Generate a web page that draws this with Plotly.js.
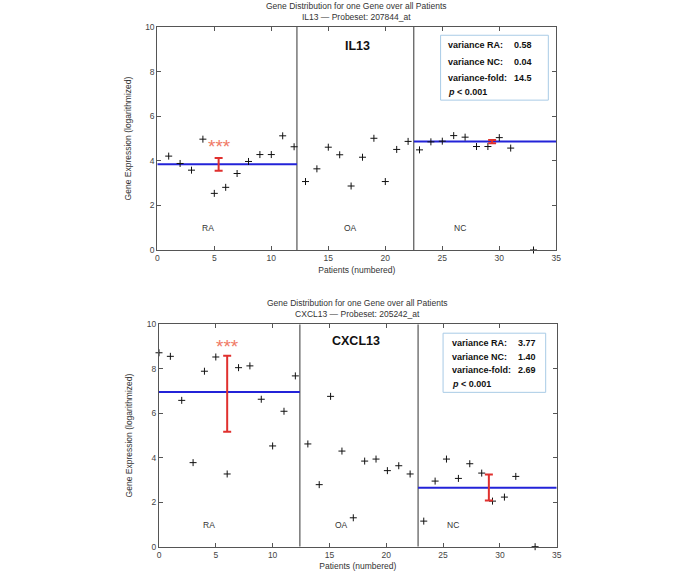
<!DOCTYPE html>
<html>
<head>
<meta charset="utf-8">
<script src="https://cdn.plot.ly/plotly-3.0.1.min.js"></script>
<style>html,body{margin:0;padding:0;background:#fff;}#chart{width:685px;height:575px;}</style>
</head>
<body>
<div id="chart"></div>
<script>
// ---------- IL13 (top) ----------
const il13_ra_x = [1,2,3,4,5,6,7,8,9,10,11,12];
const il13_ra_y = [4.21,3.88,3.58,4.97,2.54,2.81,3.43,3.97,4.28,4.28,5.12,4.63];
const il13_oa_x = [13,14,15,16,17,18,19,20,21,22];
const il13_oa_y = [3.07,3.64,4.61,4.27,2.87,4.16,5.01,3.07,4.51,4.87];
const il13_nc_x = [23,24,25,26,27,28,29,30,31];
const il13_nc_y = [4.49,4.85,4.88,5.13,5.06,4.64,4.64,5.04,4.57];
const il13_extra_x = [33];
const il13_extra_y = [0];
const il13_sep = [12.25, 22.5];
const il13_mean_ra = 3.84, il13_mean_nc = 4.87;
const il13_err_x = [5.38, 29.37];
const il13_err_y = [3.84, 4.86];
const il13_err_plus = [0.29, 0.07];
const il13_err_minus = [0.29, 0.07];
const il13_star = [5.43, 4.62];
const il13_stats_labels = ["variance RA:", "variance NC:", "variance-fold:"];
const il13_stats_values = ["0.58", "0.04", "14.5"];

// ---------- CXCL13 (bottom) ----------
const cx_ra_x = [1,2,3,4,5,6,7,8,9,10,11,12];
const cx_ra_y = [8.56,6.58,3.78,7.89,8.53,3.27,8.05,8.13,6.63,4.53,6.09,7.68];
const cx_oa_x = [13.1,14.1,15.1,16.1,17.1,18.1,19.1,20.1,21.1,22.1];
const cx_oa_y = [4.62,2.79,6.76,4.30,1.30,3.85,3.94,3.42,3.64,3.27];
const cx_nc_x = [23.3,24.3,25.3,26.35,27.35,28.4,29.35,30.4,31.4];
const cx_nc_y = [1.15,2.95,3.94,3.07,3.73,3.31,2.05,2.23,3.16];
const cx_extra_x = [0, 33.1];
const cx_extra_y = [8.72, 0];
const cx_sep = [12.4, 22.8];
const cx_mean_ra = 6.96, cx_mean_nc = 2.65;
const cx_err_x = [6.0, 29.03];
const cx_err_y = [6.96, 2.65];
const cx_err_plus = [1.63, 0.60];
const cx_err_minus = [1.79, 0.57];
const cx_star = [6.0, 9.02];
const cx_stats_labels = ["variance RA:", "variance NC:", "variance-fold:"];
const cx_stats_values = ["3.77", "1.40", "2.69"];

const xTickVals = [0,5,10,15,20,25,30,35];
const yTickVals = [0,2,4,6,8,10];
const groupLabels = ["RA","OA","NC"];

const FONT = "Liberation Sans, Arial, Helvetica, sans-serif";
const BLUE = "#2323d8";
const RED = "#e0302e";
const STAR = "#f07a66";
const GRID = "#555555";

function pointTrace(x, y, xa, ya, clip) {
  return {x: x, y: y, xaxis: xa, yaxis: ya, type: "scatter", mode: "markers",
    cliponaxis: clip,
    marker: {symbol: "cross-thin", size: 5, color: "#111", line: {color: "#111", width: 1}},
    hoverinfo: "skip", showlegend: false};
}
function lineTrace(x, y, xa, ya, color, w) {
  return {x: x, y: y, xaxis: xa, yaxis: ya, type: "scatter", mode: "lines",
    line: {color: color, width: w}, hoverinfo: "skip", showlegend: false};
}
function errTrace(x, y, plus, minus, xa, ya) {
  return {x: x, y: y, xaxis: xa, yaxis: ya, type: "scatter", mode: "markers",
    marker: {size: 1, color: "rgba(0,0,0,0)"},
    error_y: {type: "data", array: plus, arrayminus: minus, color: RED, thickness: 2, width: 4, visible: true},
    hoverinfo: "skip", showlegend: false};
}

const traces = [];
function panel(d, xa, ya) {
  d.sep.forEach(s => traces.push(lineTrace([s, s], [0, 10], xa, ya, "#333", 1)));
  traces.push(lineTrace([0, d.sep[0]], [d.meanRA, d.meanRA], xa, ya, BLUE, 2));
  traces.push(lineTrace([d.sep[1], 35], [d.meanNC, d.meanNC], xa, ya, BLUE, 2));
  traces.push(pointTrace(d.raX, d.raY, xa, ya, true));
  traces.push(pointTrace(d.oaX, d.oaY, xa, ya, true));
  traces.push(pointTrace(d.ncX, d.ncY, xa, ya, true));
  traces.push(pointTrace(d.exX, d.exY, xa, ya, false));
  traces.push(errTrace(d.errX, d.errY, d.errP, d.errM, xa, ya));
}
panel({sep: il13_sep, meanRA: il13_mean_ra, meanNC: il13_mean_nc,
  raX: il13_ra_x, raY: il13_ra_y, oaX: il13_oa_x, oaY: il13_oa_y, ncX: il13_nc_x, ncY: il13_nc_y,
  exX: il13_extra_x, exY: il13_extra_y, errX: il13_err_x, errY: il13_err_y, errP: il13_err_plus, errM: il13_err_minus}, "x", "y");
panel({sep: cx_sep, meanRA: cx_mean_ra, meanNC: cx_mean_nc,
  raX: cx_ra_x, raY: cx_ra_y, oaX: cx_oa_x, oaY: cx_oa_y, ncX: cx_nc_x, ncY: cx_nc_y,
  exX: cx_extra_x, exY: cx_extra_y, errX: cx_err_x, errY: cx_err_y, errP: cx_err_plus, errM: cx_err_minus}, "x2", "y2");

function xAxis(domain, anchor) {
  return {domain: domain, anchor: anchor, range: [0, 35], tickvals: xTickVals,
    ticks: "inside", ticklen: 4, tickcolor: GRID, mirror: "ticks", showline: true, linecolor: GRID, linewidth: 1,
    showgrid: false, zeroline: false, tickfont: {family: FONT, size: 8.5, color: "#444"},
    title: {text: "Patients (numbered)", font: {family: FONT, size: 8.5, color: "#333"}, standoff: 4}};
}
function yAxis(domain, anchor) {
  return {domain: domain, anchor: anchor, range: [0, 10], tickvals: yTickVals,
    ticks: "inside", ticklen: 4, tickcolor: GRID, mirror: "ticks", showline: true, linecolor: GRID, linewidth: 1,
    showgrid: false, zeroline: false, tickfont: {family: FONT, size: 8.5, color: "#444"},
    title: {text: "Gene Expression (logarithmized)", font: {family: FONT, size: 8.5, color: "#333"}, standoff: 12}};
}

const annotations = [];
const shapes = [];
function panelText(xa, ya, gene, title2, labelX, labelY, geneX, geneY, star, box, rowsY, labX, valX, labels, values, topPaper, cx) {
  annotations.push({xref: "paper", yref: "paper", x: cx, y: topPaper, yanchor: "bottom", yshift: 3,
    showarrow: false, align: "center",
    text: "Gene Distribution for one Gene over all Patients<br>" + title2,
    font: {family: FONT, size: 8.5, color: "#333"}});
  groupLabels.forEach((g, i) => annotations.push({xref: xa, yref: ya, x: labelX[i], y: labelY, showarrow: false,
    text: g, font: {family: FONT, size: 8.5, color: "#333"}}));
  annotations.push({xref: xa, yref: ya, x: geneX, y: geneY, showarrow: false, text: "<b>" + gene + "</b>",
    font: {family: FONT, size: 12.5, color: "#111"}});
  annotations.push({xref: xa, yref: ya, x: star[0], y: star[1], showarrow: false, text: "***",
    font: {family: FONT, size: 19, color: STAR}});
  shapes.push({type: "rect", xref: xa, yref: ya, x0: box[0], x1: box[1], y0: box[2], y1: box[3],
    line: {color: "#a9cbe6", width: 1}, fillcolor: "#ffffff", layer: "below"});
  labels.forEach((l, i) => {
    annotations.push({xref: xa, yref: ya, x: labX, y: rowsY[i], xanchor: "left", showarrow: false,
      text: "<b>" + l + "</b>", font: {family: FONT, size: 9, color: "#111"}});
    annotations.push({xref: xa, yref: ya, x: valX, y: rowsY[i], xanchor: "left", showarrow: false,
      text: "<b>" + values[i] + "</b>", font: {family: FONT, size: 9, color: "#111"}});
  });
  annotations.push({xref: xa, yref: ya, x: labX, y: rowsY[3], xanchor: "left", showarrow: false,
    text: "<b><i>p</i> &lt; 0.001</b>", font: {family: FONT, size: 9, color: "#111"}});
}

const topDom = {x: [157.3/685, 556.3/685], y: [1 - 250/575, 1 - 27/575]};
const botDom = {x: [159/685, 556.7/685], y: [1 - 546.7/575, 1 - 324.3/575]};

panelText("x", "y", "IL13", "IL13 \u2014 Probeset: 207844_at", [4.48, 16.98, 26.56], 0.97, 17.57, 9.13,
  il13_star, [24.85, 34.3, 6.72, 9.63], [9.18, 8.43, 7.72, 7.08], 25.3, 31.09,
  il13_stats_labels, il13_stats_values, topDom.y[1], (topDom.x[0] + topDom.x[1]) / 2);
panelText("x2", "y2", "CXCL13", "CXCL13 \u2014 Probeset: 205242_at", [4.4, 16.1, 25.9], 0.97, 17.35, 9.25,
  cx_star, [25.0, 34.03, 6.94, 9.6], [9.15, 8.55, 7.95, 7.32], 25.6, 31.4,
  cx_stats_labels, cx_stats_values, botDom.y[1], (botDom.x[0] + botDom.x[1]) / 2);

const layout = {
  width: 685, height: 575, margin: {l: 0, r: 0, t: 0, b: 0},
  paper_bgcolor: "#fff", plot_bgcolor: "#fff", showlegend: false,
  font: {family: FONT},
  xaxis: xAxis(topDom.x, "y"), yaxis: yAxis(topDom.y, "x"),
  xaxis2: xAxis(botDom.x, "y2"), yaxis2: yAxis(botDom.y, "x2"),
  annotations: annotations, shapes: shapes
};
Plotly.newPlot("chart", traces, layout, {staticPlot: true});
</script>
</body>
</html>
